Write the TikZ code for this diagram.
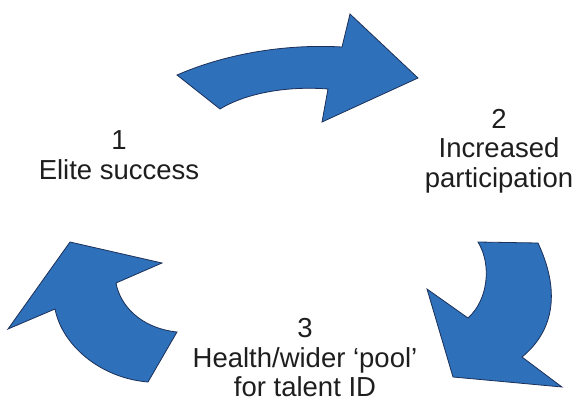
\documentclass[tikz,border=0pt]{standalone}
\usepackage{fontspec}
\setmainfont{Liberation Sans}
\usepackage{xcolor}
\definecolor{arrowblue}{RGB}{46,112,186}
\definecolor{arrowline}{RGB}{28,48,88}
\definecolor{labelgray}{RGB}{30,30,30}

\begin{document}
\begin{tikzpicture}[x=1pt, y=-1pt,
				   blockarrow/.style={fill=arrowblue, draw=arrowline, line width=0.8pt, line join=miter},
				   label/.style={align=center, text=labelgray, font=\fontsize{27.5}{29.5}\selectfont, inner sep=0pt}]
\useasboundingbox (0,0) rectangle (579,405);

% the three bent arrows
\draw[blockarrow] (177,75) .. controls (230,52) and (290,44) .. (342,47) -- (350,14) -- (418,78) -- (322,122) -- (328,89)
	.. controls (290,86) and (248,92) .. (220,109) -- cycle;
\draw[blockarrow] (478,242) -- (538,243) .. controls (560,290) and (555,330) .. (522,357) -- (562,387) -- (453,377) -- (427,289) -- (468,318)
	.. controls (488,300) and (492,265) .. (478,242) -- cycle;
\draw[blockarrow] (177,332) -- (148,382) .. controls (100,378) and (62,345) .. (55,309) -- (8,329) -- (70,242) -- (162,263) -- (116,283)
	.. controls (120,305) and (140,328) .. (177,332) -- cycle;

% the labels
\node[label] (elite) at (119,155) {1\\Elite success};
\node[label] (participation) at (499,151) {2\\Increased\\participation};
\node[label] (pool) at (305,358) {3\\Health/wider ‘pool’\\for talent ID};
\end{tikzpicture}
\end{document}
